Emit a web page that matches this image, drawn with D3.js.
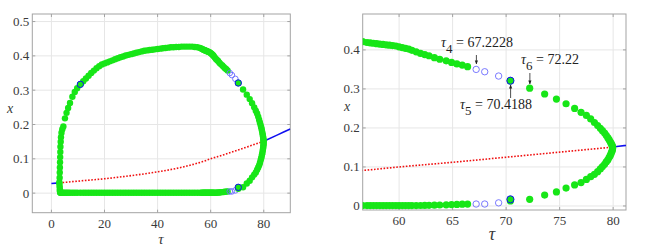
<!DOCTYPE html>
<html><head><meta charset="utf-8">
<script src="https://cdn.jsdelivr.net/npm/d3@7"></script>
<style>body{margin:0;background:#fff} svg{display:block} text{font-family:"Liberation Serif","Times New Roman",serif}</style></head>
<body>
<svg id="c" width="649" height="248"></svg>
<script>
// ---------- data ----------
// equilibrium branch
const tauEqStableA = [0, 3];
const xEqStableA   = [0.028, 0.030];
const tauEqUnstable = [3, 10, 20, 30, 40, 50, 57, 60, 65, 70, 75, 80];
const xEqUnstable   = [0.030, 0.035, 0.042, 0.051, 0.062, 0.077, 0.092, 0.100, 0.112, 0.125, 0.138, 0.151];
const tauEqStableB = [80, 85, 90];
const xEqStableB   = [0.151, 0.169, 0.187];

// periodic orbit branch: tau, max, min
const tauP = [3.0,3.1,3.15,3.2,3.25,3.3,3.35,3.4,3.5,3.6,3.8,4.1,4.5,5.1,5.7,6.3,7.0,7.9,8.8,9.7,10.9,
  12,13,14,15,16,17,18,19,20,21,22,23,24,25,26,27,28,29,30,31,32,33,34,35,36,37,38,39,40,41,42,43,44,45,46,47,48,49,50,51,52,53,54,55,56,
  56.6,57.0,57.3,57.6,57.9,58.2,58.5,58.8,59.1,59.4,59.7,60.0,60.3,60.6,60.9,61.2,61.6,62.0,62.4,62.8,63.3,63.8,64.4,64.9,65.4,65.9,66.4,
  67.2,68.0,69.3,70.4,72.2,73.6,74.7,75.6,76.4,77.0,77.5,77.9,78.25,78.55,78.8,79.0,79.2,79.35,79.5,79.62,79.72,79.8,79.87,79.92,79.95];
const xMaxP = [0.032,0.045,0.060,0.075,0.090,0.105,0.120,0.135,0.150,0.163,0.176,0.186,0.194,0.218,0.234,0.248,0.263,0.281,0.295,0.306,0.317,
  0.326,0.334,0.342,0.350,0.357,0.364,0.370,0.375,0.378,0.381,0.384,0.387,0.390,0.393,0.396,0.398,0.401,0.403,0.405,0.407,0.409,0.411,0.413,0.415,0.416,0.417,0.418,0.419,0.420,0.421,0.422,0.423,0.424,0.425,0.425,0.426,0.426,0.427,0.427,0.427,0.427,0.427,0.426,0.425,0.423,
  0.421,0.419,0.418,0.417,0.416,0.415,0.414,0.413,0.412,0.411,0.410,0.408,0.406,0.404,0.402,0.399,0.395,0.391,0.388,0.385,0.380,0.376,0.372,0.368,0.364,0.361,0.357,
  0.350,0.344,0.333,0.321,0.302,0.287,0.274,0.262,0.250,0.240,0.232,0.223,0.214,0.206,0.199,0.193,0.187,0.181,0.175,0.170,0.165,0.161,0.157,0.154,0.151];
const xMinP = [0.028,0.020,0.013,0.008,0.005,0.003,0.002,0.0015,0.001,0.001,0.001,0.001,0.001,0.001,0.001,0.001,0.001,0.001,0.001,0.001,0.001,
  0.001,0.001,0.001,0.001,0.001,0.001,0.001,0.001,0.001,0.001,0.001,0.001,0.001,0.001,0.001,0.001,0.001,0.001,0.001,0.001,0.001,0.001,0.001,0.001,0.001,0.001,0.001,0.001,0.001,0.001,0.001,0.001,0.001,0.001,0.001,0.001,0.001,0.001,0.001,0.001,0.001,0.001,0.001,0.001,0.001,0.001,
  0.001,0.001,0.001,0.001,0.001,0.001,0.001,0.001,0.001,0.001,0.001,0.001,0.001,0.001,0.001,0.001,0.0012,0.0015,0.0018,0.002,0.0025,0.003,0.0035,0.004,0.0045,0.005,0.005,
  0.005,0.008,0.013,0.017,0.028,0.036,0.046,0.054,0.060,0.068,0.075,0.081,0.088,0.095,0.101,0.107,0.113,0.118,0.124,0.129,0.134,0.139,0.143,0.147,0.150];
// unstable orbits (open circles)
const tauUnstable = [67.2, 68.0, 69.3];
// bifurcation points (green with blue edge)
const tauBif = [10.9, 70.4, 70.4];
const xBif   = [0.317, 0.321, 0.017];

const annSubs  = ["4", "5", "6"];
const annTexts = [" = 67.2228", " = 70.4188", " = 72.22"];
const annTaus  = [67.2228, 70.4188, 72.22];

const leftXTicks = [0, 20, 40, 60, 80];
const leftYTicks = [0, 0.1, 0.2, 0.3, 0.4, 0.5];
const rightXTicks = [60, 65, 70, 75, 80];
const rightYTicks = [0, 0.1, 0.2, 0.3, 0.4];

// ---------- drawing ----------
const svg = d3.select("#c");
const GREEN = "#17e617", BLUE = "#1010f0", RED = "#f01010", OPENBLUE = "#6b6bff";
const TXT = "#3a3a3a";

function panel(id, xs, ys, xTicks, yTicks, r, fs) {
  const [x0, x1] = xs.range(), [y0, y1] = ys.range();
  const g = svg.append("g");
  g.append("clipPath").attr("id", id).append("rect")
    .attr("x", x0).attr("y", y1).attr("width", x1 - x0).attr("height", y0 - y1);
  g.selectAll(null).data(xTicks).join("line")
    .attr("x1", d => xs(d)).attr("x2", d => xs(d)).attr("y1", y0).attr("y2", y1)
    .attr("stroke", "#e6e6e6").attr("stroke-width", 1);
  g.selectAll(null).data(yTicks).join("line")
    .attr("y1", d => ys(d)).attr("y2", d => ys(d)).attr("x1", x0).attr("x2", x1)
    .attr("stroke", "#e6e6e6").attr("stroke-width", 1);
  g.append("rect").attr("x", x0).attr("y", y1).attr("width", x1 - x0).attr("height", y0 - y1)
    .attr("fill", "none").attr("stroke", "#a3a3a3").attr("stroke-width", 1);
  xTicks.forEach(d => {
    g.append("line").attr("x1", xs(d)).attr("x2", xs(d)).attr("y1", y0).attr("y2", y0 - 3).attr("stroke", "#a3a3a3");
    g.append("line").attr("x1", xs(d)).attr("x2", xs(d)).attr("y1", y1).attr("y2", y1 + 3).attr("stroke", "#a3a3a3");
  });
  yTicks.forEach(d => {
    g.append("line").attr("x1", x0).attr("x2", x0 + 3).attr("y1", ys(d)).attr("y2", ys(d)).attr("stroke", "#a3a3a3");
    g.append("line").attr("x1", x1).attr("x2", x1 - 3).attr("y1", ys(d)).attr("y2", ys(d)).attr("stroke", "#a3a3a3");
  });
  g.selectAll(null).data(xTicks).join("text")
    .attr("x", d => xs(d)).attr("y", y0 + 15).attr("text-anchor", "middle")
    .attr("font-size", fs).attr("fill", TXT).text(d => d);
  g.selectAll(null).data(yTicks).join("text")
    .attr("x", x0 - 3).attr("y", d => ys(d) + 4.5).attr("text-anchor", "end")
    .attr("font-size", fs).attr("fill", TXT).text(d => d);

  const body = g.append("g").attr("clip-path", `url(#${id})`);
  const line = d3.line().x(d => xs(d[0])).y(d => ys(d[1])).curve(d3.curveMonotoneX);
  body.append("path").datum(tauEqStableA.map((t, i) => [t, xEqStableA[i]]))
    .attr("d", line).attr("fill", "none").attr("stroke", BLUE).attr("stroke-width", 1.6);
  body.append("path").datum(tauEqStableB.map((t, i) => [t, xEqStableB[i]]))
    .attr("d", line).attr("fill", "none").attr("stroke", BLUE).attr("stroke-width", 1.6);
  body.append("path").datum(tauEqUnstable.map((t, i) => [t, xEqUnstable[i]]))
    .attr("d", line).attr("fill", "none").attr("stroke", RED).attr("stroke-width", 1.6)
    .attr("stroke-dasharray", "1.6,1.6");

  const pts = [];
  tauP.forEach((t, i) => {
    const u = tauUnstable.includes(t);
    pts.push({t, x: xMaxP[i], u});
    pts.push({t, x: xMinP[i], u});
  });
  body.selectAll(null).data(pts).join("circle")
    .attr("cx", d => xs(d.t)).attr("cy", d => ys(d.x)).attr("r", d => d.u ? r - 0.4 : r)
    .attr("fill", d => d.u ? "none" : GREEN)
    .attr("stroke", d => d.u ? OPENBLUE : "none")
    .attr("stroke-width", 0.9);
  body.selectAll(null).data(tauBif.map((t, i) => [t, xBif[i]])).join("circle")
    .attr("cx", d => xs(d[0])).attr("cy", d => ys(d[1])).attr("r", r)
    .attr("fill", GREEN).attr("stroke", BLUE).attr("stroke-width", 1);
  return g;
}

const xL = d3.scaleLinear().domain([-7.2, 90]).range([32.3, 290.3]);
const yL = d3.scaleLinear().domain([-0.057, 0.522]).range([212.7, 14]);
panel("clipL", xL, yL, leftXTicks, leftYTicks, 3.2, 13);

const xR = d3.scaleLinear().domain([56.6, 81.2]).range([362.7, 626]);
const yR = d3.scaleLinear().domain([-0.0103, 0.492]).range([210, 14]);
panel("clipR", xR, yR, rightXTicks, rightYTicks, 3.6, 13);

// axis labels
svg.append("text").attr("x", 161).attr("y", 244).attr("text-anchor", "middle")
  .attr("font-size", 15).attr("font-style", "italic").attr("fill", TXT).text("τ");
svg.append("text").attr("x", 10).attr("y", 113).attr("text-anchor", "middle")
  .attr("font-size", 14).attr("font-style", "italic").attr("fill", TXT).text("x");
svg.append("text").attr("x", 492).attr("y", 240).attr("text-anchor", "middle")
  .attr("font-size", 18).attr("font-style", "italic").attr("fill", TXT).text("τ");
svg.append("text").attr("x", 347).attr("y", 111).attr("text-anchor", "middle")
  .attr("font-size", 14).attr("font-style", "italic").attr("fill", TXT).text("x");

// annotations on right panel
const annPos = [
  {tx: 441, ty: 47, from: 55, to: 64},
  {tx: 460, ty: 109, from: 98, to: 85},
  {tx: 521, ty: 64, from: 73, to: 84}
];
svg.append("defs").append("marker").attr("id", "ah").attr("viewBox", "0 0 10 10")
  .attr("refX", 9).attr("refY", 5).attr("markerWidth", 5).attr("markerHeight", 5).attr("orient", "auto")
  .append("path").attr("d", "M0,1 L10,5 L0,9 Z").attr("fill", "#222");
annTaus.forEach((tau, i) => {
  const p = annPos[i];
  const t = svg.append("text").attr("x", p.tx).attr("y", p.ty)
    .attr("font-size", 14).attr("fill", "#222");
  t.append("tspan").attr("font-style", "italic").text("τ");
  t.append("tspan").attr("dy", 6).attr("font-size", 13).text(annSubs[i]);
  t.append("tspan").attr("dy", -6).text(annTexts[i]);
  const ax = xR(tau);
  svg.append("line").attr("x1", ax).attr("x2", ax).attr("y1", p.from).attr("y2", p.to)
    .attr("stroke", "#222").attr("stroke-width", 0.8).attr("marker-end", "url(#ah)");
});
</script>
</body></html>
